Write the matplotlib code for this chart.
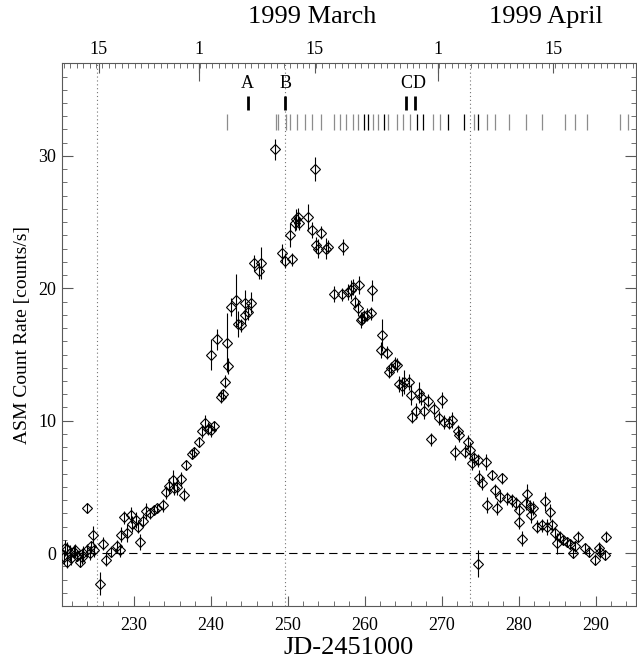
import numpy as np
import matplotlib
matplotlib.use("Agg")
import matplotlib.pyplot as plt
from matplotlib.ticker import MultipleLocator, FixedLocator

plt.rcParams['font.family'] = ['Liberation Serif', 'DejaVu Serif']

# ASM light curve (JD-2451000, count rate, 1-sigma error)
jd = [221.0, 221.06, 221.3, 221.4, 221.7, 221.9, 222.2, 222.4, 222.7, 223.1,
      223.3, 223.4, 223.9, 224.0, 224.3, 224.5, 224.7, 224.9, 225.6, 226.0,
      226.4, 227.1, 227.8, 228.2, 228.4, 228.8, 229.1, 229.6, 229.8, 230.3,
      230.6, 230.8, 231.2, 231.6, 232.1, 232.7, 233.1, 233.8, 234.2, 234.6,
      235.1, 235.2, 235.7, 236.2, 236.6, 236.8, 237.6, 237.9, 238.5, 238.9,
      239.3, 239.6, 240.1, 240.5, 240.1, 240.8, 241.4, 241.6, 241.9, 242.1,
      242.3, 242.65, 243.3, 243.6, 243.9, 244.4, 244.5, 244.8, 245.3, 245.6,
      246.3, 246.5, 248.3, 249.3, 249.6, 250.3, 250.6, 251.0, 251.1, 251.3,
      251.5, 252.6, 253.2, 253.6, 253.7, 254.0, 254.3, 255.0, 255.3, 256.0,
      257.0, 257.2, 257.9, 258.2, 258.5, 258.8, 259.1, 259.3, 259.5, 259.6,
      259.9, 260.3, 260.8, 261.0, 262.1, 262.2, 262.9, 263.2, 263.4, 264.0,
      264.2, 264.5, 264.9, 265.1, 265.75, 266.0, 266.2, 266.7, 267.0, 267.3,
      267.7, 268.25, 268.6, 269.0, 269.6, 270.0, 270.3, 270.9, 271.4, 271.7,
      272.1, 272.2, 273.0, 273.4, 273.7, 273.95, 274.2, 274.7, 274.7, 274.8,
      275.2, 275.7, 275.9, 276.5, 276.9, 277.2, 277.6, 277.9, 278.5, 279.1,
      279.6, 280.0, 280.0, 280.4, 280.9, 281.1, 281.5, 281.6, 281.9, 282.4,
      283.0, 283.4, 283.7, 284.1, 284.3, 284.75, 285.0, 285.4, 285.8, 286.3,
      286.7, 287.1, 287.3, 287.7, 288.6, 289.1, 289.9, 290.4, 290.6, 291.2,
      291.4]
rate = [-0.3, 0.4, -0.65, 0.3, 0.0, -0.4, 0.1, 0.2, -0.2, -0.65,
        -0.3, 0.0, 3.4, 0.2, 0.0, 0.5, 1.35, 0.2, -2.3, 0.7,
        -0.5, 0.1, 0.5, 0.2, 1.4, 2.7, 1.5, 2.9, 2.2, 2.5,
        2.0, 0.85, 2.45, 3.2, 3.0, 3.25, 3.4, 3.6, 4.6, 5.1,
        5.55, 4.9, 5.0, 5.6, 4.4, 6.65, 7.5, 7.65, 8.4, 9.2,
        9.8, 9.4, 9.3, 9.6, 15.0, 16.15, 11.8, 12.0, 12.95, 15.9,
        14.1, 18.6, 19.1, 17.3, 17.2, 18.9, 18.0, 18.2, 18.9, 21.9,
        21.3, 21.9, 30.5, 22.65, 22.1, 24.0, 22.2, 24.9, 25.2, 25.4,
        24.9, 25.4, 24.4, 29.0, 23.3, 23.0, 24.2, 23.0, 23.15, 19.55,
        19.55, 23.1, 19.75, 19.9, 20.1, 19.0, 18.5, 20.25, 17.6, 17.7,
        17.9, 18.0, 18.1, 19.85, 15.35, 16.5, 15.15, 13.7, 13.95, 14.3,
        14.2, 12.8, 12.6, 12.95, 12.95, 11.95, 10.3, 10.7, 12.1, 11.8,
        10.7, 11.5, 8.6, 10.85, 10.2, 11.55, 9.9, 9.85, 10.05, 7.6,
        9.2, 8.9, 7.65, 8.4, 7.8, 6.8, 7.15, 7.0, -0.8, 5.65,
        5.3, 6.9, 3.6, 5.9, 4.75, 3.4, 4.25, 5.65, 4.15, 4.0,
        3.75, 3.25, 2.35, 1.1, 3.75, 4.5, 3.5, 2.9, 3.4, 2.0,
        2.1, 3.9, 2.0, 3.1, 2.1, 1.5, 0.75, 1.25, 1.0, 0.85,
        0.7, 0.0, 0.5, 1.25, 0.35, 0.1, -0.5, 0.35, 0.1, -0.15,
        1.25]
err = [0.5, 0.6, 0.5, 0.5, 0.6, 0.5, 0.5, 0.5, 0.4, 0.4,
       0.5, 0.5, 0.4, 0.5, 0.5, 0.4, 0.7, 0.5, 0.9, 0.5,
       0.5, 0.4, 0.5, 0.5, 0.6, 0.5, 0.7, 0.6, 0.6, 0.6,
       0.5, 0.6, 0.5, 0.6, 0.4, 0.3, 0.3, 0.5, 0.5, 0.6,
       0.7, 0.5, 0.6, 0.5, 0.5, 0.4, 0.4, 0.4, 0.4, 0.5,
       0.6, 0.5, 0.5, 0.4, 1.2, 0.8, 0.5, 0.4, 0.5, 2.2,
       0.6, 0.7, 2.0, 1.0, 0.5, 1.0, 0.7, 0.6, 0.8, 0.6,
       0.6, 1.2, 0.8, 0.7, 0.6, 0.9, 0.5, 0.6, 0.8, 0.7,
       0.5, 1.0, 0.6, 0.9, 0.6, 0.7, 0.5, 0.8, 0.5, 0.6,
       0.5, 0.6, 0.6, 0.7, 0.6, 0.5, 0.6, 0.7, 0.6, 0.5,
       0.5, 0.5, 0.5, 0.8, 0.6, 1.2, 0.5, 0.5, 0.5, 0.5,
       0.5, 0.6, 0.7, 0.9, 0.6, 0.8, 0.5, 0.6, 0.8, 0.6,
       0.6, 0.5, 0.5, 0.6, 0.5, 0.6, 0.5, 0.5, 0.6, 0.6,
       0.5, 0.5, 0.5, 0.5, 0.6, 0.5, 0.5, 0.5, 1.0, 0.6,
       0.5, 0.6, 0.6, 0.4, 0.5, 0.5, 0.5, 0.4, 0.5, 0.5,
       0.5, 0.5, 0.5, 0.6, 0.5, 0.7, 0.5, 0.6, 0.5, 0.5,
       0.5, 0.7, 0.6, 0.6, 0.5, 0.5, 0.8, 0.4, 0.4, 0.4,
       0.4, 0.4, 0.4, 0.4, 0.4, 0.4, 0.4, 0.5, 0.5, 0.4,
       0.4]

# pointed observations (top of plot)
mark_labels = ['A', 'B', 'C', 'D']
mark_jd = [244.8, 249.7, 265.4, 266.6]
mark_ha = ['center', 'center', 'right', 'left']
obs_jd = [242.15, 248.43, 248.75, 249.76, 250.29, 251.25, 252.26, 253.22,
          254.29, 256.0, 256.84, 257.59, 258.55, 259.08, 259.88, 260.41,
          261.1, 261.74, 262.54, 263.07, 264.14, 264.93, 265.89, 266.8,
          267.6, 268.93, 269.73, 270.79, 272.92, 274.25, 274.78, 275.85,
          276.91, 278.78, 280.91, 283.04, 285.97, 287.29, 288.89, 293.15,
          294.21]
obs_dark = [266.8, 259.88, 260.41, 262.54, 267.6, 270.79, 272.92, 274.78]

vlines_jd = [225.3, 249.7, 273.65]

# calendar axis: 1999 Feb 15, Mar 1, Mar 15, Apr 1, Apr 15
date_jd = [225.5, 238.5, 253.5, 269.5, 284.5]
date_labels = ['15', '1', '15', '1', '15']
month_jd = [238.5, 269.5]
month_titles = ['1999 March', '1999 April']
month_title_jd = [253.2, 283.6]

fig = plt.figure(figsize=(6.37, 6.64), dpi=100)
ax = fig.add_axes([0.0973, 0.0873, 0.9007, 0.8174])

for x in vlines_jd:
    ax.axvline(x, color='0.45', ls=(0, (1, 2.5)), lw=0.8, zorder=1)
ax.plot([220.7, 292.0], [0, 0], color='black', ls=(0, (7.5, 4.5)), lw=0.8, zorder=1)

ax.errorbar(jd, rate, yerr=err, fmt='none', ecolor='black', elinewidth=0.8, zorder=2)
ax.plot(jd, rate, ls='none', marker='D', ms=5.2, mfc='none', mec='black', mew=0.8, zorder=3)

for x in obs_jd:
    c = 'black' if x in obs_dark else '0.55'
    ax.plot([x, x], [31.95, 33.15], color=c, lw=0.9, solid_capstyle='butt')
for lab, x, ha in zip(mark_labels, mark_jd, mark_ha):
    ax.plot([x, x], [33.5, 34.5], color='black', lw=2.0, solid_capstyle='butt')
    tx = x
    if ha == 'right':
        tx = x + 0.75
    elif ha == 'left':
        tx = x - 0.35
    ax.text(tx, 35.45, lab, ha=ha, va='center', fontsize=13)

ax.set_xlim(220.7, 295.2)
ax.set_ylim(-4, 37)
ax.xaxis.set_major_locator(MultipleLocator(10))
ax.xaxis.set_minor_locator(MultipleLocator(2))
ax.yaxis.set_major_locator(MultipleLocator(10))
ax.yaxis.set_minor_locator(MultipleLocator(1))
ax.tick_params(which='both', direction='in', right=True, top=False, labelsize=13, color='0.35')
ax.tick_params(axis='x', which='major', length=7, pad=8)
ax.tick_params(axis='x', which='minor', length=3.6)
ax.tick_params(axis='y', which='major', length=8, pad=4)
ax.tick_params(axis='y', which='minor', length=3.6)
ax.set_xlabel('JD-2451000', fontsize=19, labelpad=2)
ax.set_ylabel('ASM Count Rate [counts/s]', fontsize=14, labelpad=5)
for s in ax.spines.values():
    s.set_color('0.35')
    s.set_linewidth(0.8)

# top calendar axis
ax2 = ax.twiny()
ax2.set_xlim(ax.get_xlim())
ax2.xaxis.set_major_locator(FixedLocator(date_jd))
ax2.set_xticklabels(date_labels)
ax2.xaxis.set_minor_locator(MultipleLocator(0.84))
ax2.tick_params(which='both', direction='in', labelsize=13, color='0.35')
ax2.tick_params(which='major', length=7.2, pad=4)
ax2.tick_params(which='minor', length=3.6)
for s in ax2.spines.values():
    s.set_visible(False)

ax3 = ax.twiny()
ax3.set_xlim(ax.get_xlim())
ax3.xaxis.set_major_locator(FixedLocator(month_jd))
ax3.xaxis.set_minor_locator(FixedLocator([]))
ax3.tick_params(which='major', direction='in', length=13, color='0.35', labeltop=False)
for s in ax3.spines.values():
    s.set_visible(False)

for t, x in zip(month_titles, month_title_jd):
    ax.text(x, 1.085, t, transform=ax.get_xaxis_transform(), ha='center', va='center', fontsize=19)

fig.savefig('out.png', dpi=100)
